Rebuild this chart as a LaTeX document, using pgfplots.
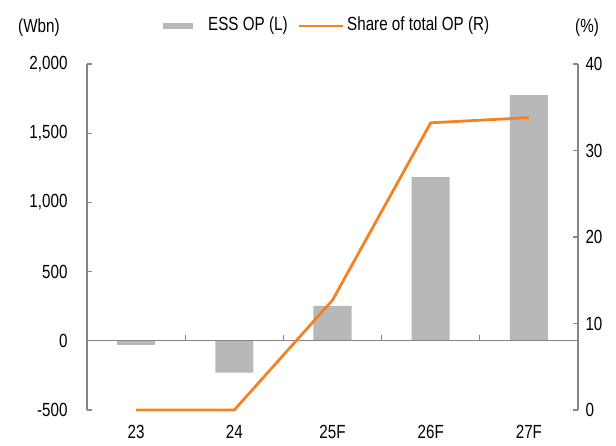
\documentclass[border=0pt]{standalone}
\usepackage{fontspec}
\setmainfont{Liberation Sans}[FakeStretch=0.8]
\usepackage{pgfplots}
\pgfplotsset{compat=1.18}
\definecolor{axisgray}{RGB}{134,134,134}
\definecolor{barcolor}{RGB}{183,184,186}
\definecolor{lineorange}{RGB}{245,130,32}
\newcommand{\lbl}{\fontsize{19}{22}\selectfont}
\begin{document}
\begin{tikzpicture}
\path[use as bounding box] (-87pt,-36pt) rectangle (529pt,410pt);
\begin{axis}[
  at={(0pt,0pt)}, anchor=south west,
  scale only axis, width=491pt, height=346pt,
  xmin=-0.5, xmax=4.5, ymin=-500, ymax=2000,
  axis y line*=left, axis x line*=bottom,
  x axis line style={draw=none},
  y axis line style={line width=1.2pt, draw=axisgray},
  xtick={0,1,2,3,4}, xticklabels={23,24,25F,26F,27F},
  major x tick style={draw=none},
  ytick={-500,0,500,1000,1500,2000},
  yticklabels={-500,0,500,{1,000},{1,500},{2,000}},
  tick align=inside, major tick length=5pt,
  major y tick style={line width=1.2pt, draw=axisgray},
  ticklabel style={font=\lbl},
  yticklabel style={xshift=-16pt},
  xticklabel style={yshift=-12pt},
  clip=false,
]
\addplot[ybar, bar width=38pt, fill=barcolor, draw=none] coordinates {
  (0,-30) (1,-230) (2,253) (3,1183) (4,1775)
};
\draw[axisgray, line width=1.2pt] (axis cs:-0.5,0) -- (axis cs:4.5,0);
\draw[axisgray, line width=1.2pt] (axis cs:0.5,0) -- ++(0pt,6pt);
\draw[axisgray, line width=1.2pt] (axis cs:1.5,0) -- ++(0pt,6pt);
\draw[axisgray, line width=1.2pt] (axis cs:2.5,0) -- ++(0pt,6pt);
\draw[axisgray, line width=1.2pt] (axis cs:3.5,0) -- ++(0pt,6pt);
\end{axis}
\begin{axis}[
  at={(0pt,0pt)}, anchor=south west,
  scale only axis, width=491pt, height=346pt,
  xmin=-0.5, xmax=4.5, ymin=0, ymax=40,
  axis y line*=right, axis x line=none,
  y axis line style={line width=1.2pt, draw=axisgray},
  ytick={0,10,20,30,40},
  tick align=inside, major tick length=5pt,
  major y tick style={line width=1.2pt, draw=axisgray},
  ticklabel style={font=\lbl},
  yticklabel style={xshift=4pt},
  /pgf/number format/assume math mode=true,
  clip=false,
]
\addplot[lineorange, line width=2.8pt, line join=round] coordinates {
  (0,0) (1,0) (2,12.7) (3,33.2) (4,33.8)
};
\end{axis}
% legend and unit labels
\fill[barcolor] (76pt,381pt) rectangle (106pt,387pt);
\node[anchor=west, inner sep=0pt, font=\lbl] at (121pt,384pt) {ESS OP (L)};
\draw[lineorange, line width=2.8pt] (212pt,384pt) -- (256pt,384pt);
\node[anchor=west, inner sep=0pt, font=\lbl] at (260pt,384pt) {Share of total OP (R)};
\node[anchor=west, inner sep=0pt, font=\lbl] at (-69pt,382pt) {(Wbn)};
\node[anchor=west, inner sep=0pt, font=\lbl] at (488pt,382pt) {(\%)};
\end{tikzpicture}
\end{document}
